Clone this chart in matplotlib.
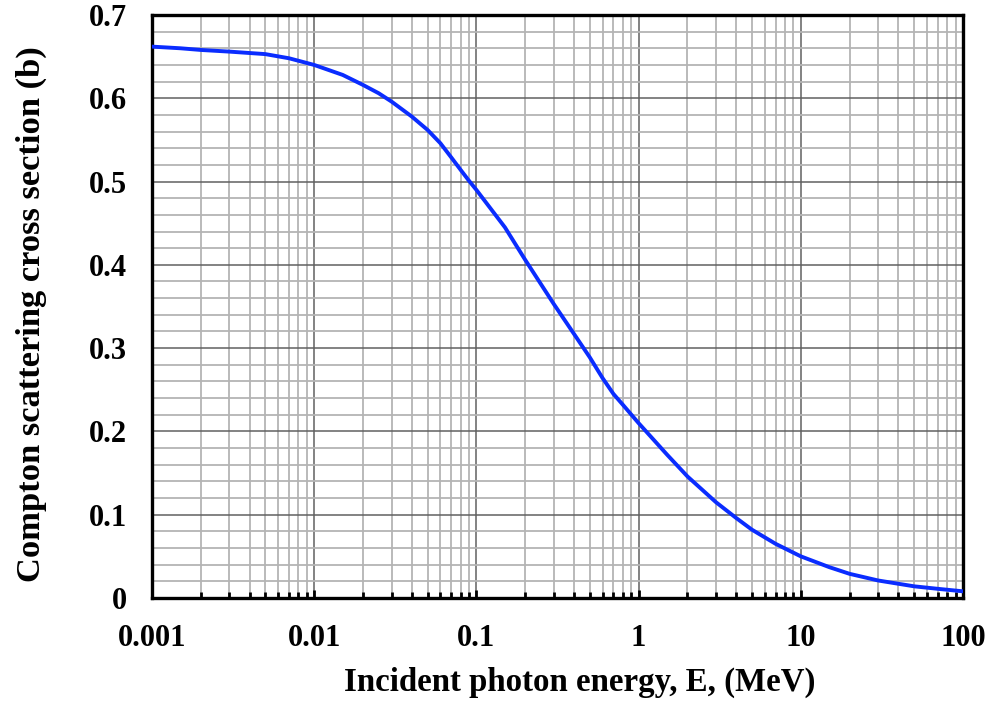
import matplotlib.pyplot as plt
from matplotlib.ticker import FixedLocator, LogLocator, NullFormatter, MultipleLocator

# values
energy = [0.001, 0.0015, 0.002, 0.003, 0.005, 0.007, 0.01, 0.015, 0.02, 0.025, 0.03,
          0.04, 0.05, 0.06, 0.07, 0.08, 0.09, 0.1, 0.15, 0.2, 0.3, 0.4, 0.5, 0.6,
          0.7, 0.8, 1, 1.5, 2, 3, 4, 5, 7, 10, 15, 20, 30, 50, 70, 100]
sigma = [0.662, 0.660, 0.658, 0.656, 0.653, 0.648, 0.640, 0.628, 0.616, 0.606, 0.596,
         0.578, 0.562, 0.546, 0.529, 0.514, 0.501, 0.490, 0.445, 0.406, 0.353, 0.317, 0.289, 0.264,
         0.245, 0.232, 0.210, 0.172, 0.146, 0.115, 0.096, 0.082, 0.065, 0.050, 0.037, 0.029, 0.021, 0.014, 0.011, 0.008]

x_ticks = [0.001, 0.01, 0.1, 1, 10, 100]
x_labels = ["0.001", "0.01", "0.1", "1", "10", "100"]
y_ticks = [0, 0.1, 0.2, 0.3, 0.4, 0.5, 0.6, 0.7]
y_labels = ["0", "0.1", "0.2", "0.3", "0.4", "0.5", "0.6", "0.7"]

plt.rcParams['font.family'] = ['Liberation Serif', 'DejaVu Serif']
plt.rcParams['font.weight'] = 'bold'

fig = plt.figure(figsize=(9.9, 7.06), dpi=100)
ax = fig.add_axes([0.1535, 0.153, 0.8192, 0.8258])

ax.plot(energy, sigma, color='#0a2cff', lw=2.8, zorder=3, solid_joinstyle='round')

ax.set_xscale('log')
ax.set_xlim(0.001, 100)
ax.set_ylim(0, 0.7)

ax.xaxis.set_major_locator(FixedLocator(x_ticks))
ax.set_xticklabels(x_labels)
ax.xaxis.set_minor_locator(LogLocator(base=10, subs=range(2, 10)))
ax.xaxis.set_minor_formatter(NullFormatter())
ax.set_yticks(y_ticks)
ax.set_yticklabels(y_labels)
ax.yaxis.set_minor_locator(MultipleLocator(0.02))

ax.grid(which='major', color='#606060', lw=1.1)
ax.grid(which='minor', color='#b4b4b4', lw=1.3)
ax.set_axisbelow(True)

ax.tick_params(axis='x', which='major', direction='in', length=6, width=2,
               labelsize=22, pad=19)
ax.tick_params(axis='x', which='minor', direction='in', length=4, width=2)
ax.tick_params(axis='y', which='both', length=0, labelsize=22, pad=18)
for lab in ax.get_xticklabels() + ax.get_yticklabels():
    lab.set_fontweight('bold')

for s in ax.spines.values():
    s.set_linewidth(2.4)
    s.set_color('black')

ax.set_xlabel("Incident photon energy, E, (MeV)", fontsize=23.7, fontweight='bold', labelpad=10)
ax.set_ylabel("Compton scattering cross section (b)", fontsize=24.8, fontweight='bold', labelpad=30)
# labels in the reference sit a little off-centre
ax.xaxis.label.set_x(0.527)
ax.yaxis.label.set_y(0.487)

fig.savefig("out.png", dpi=100)
